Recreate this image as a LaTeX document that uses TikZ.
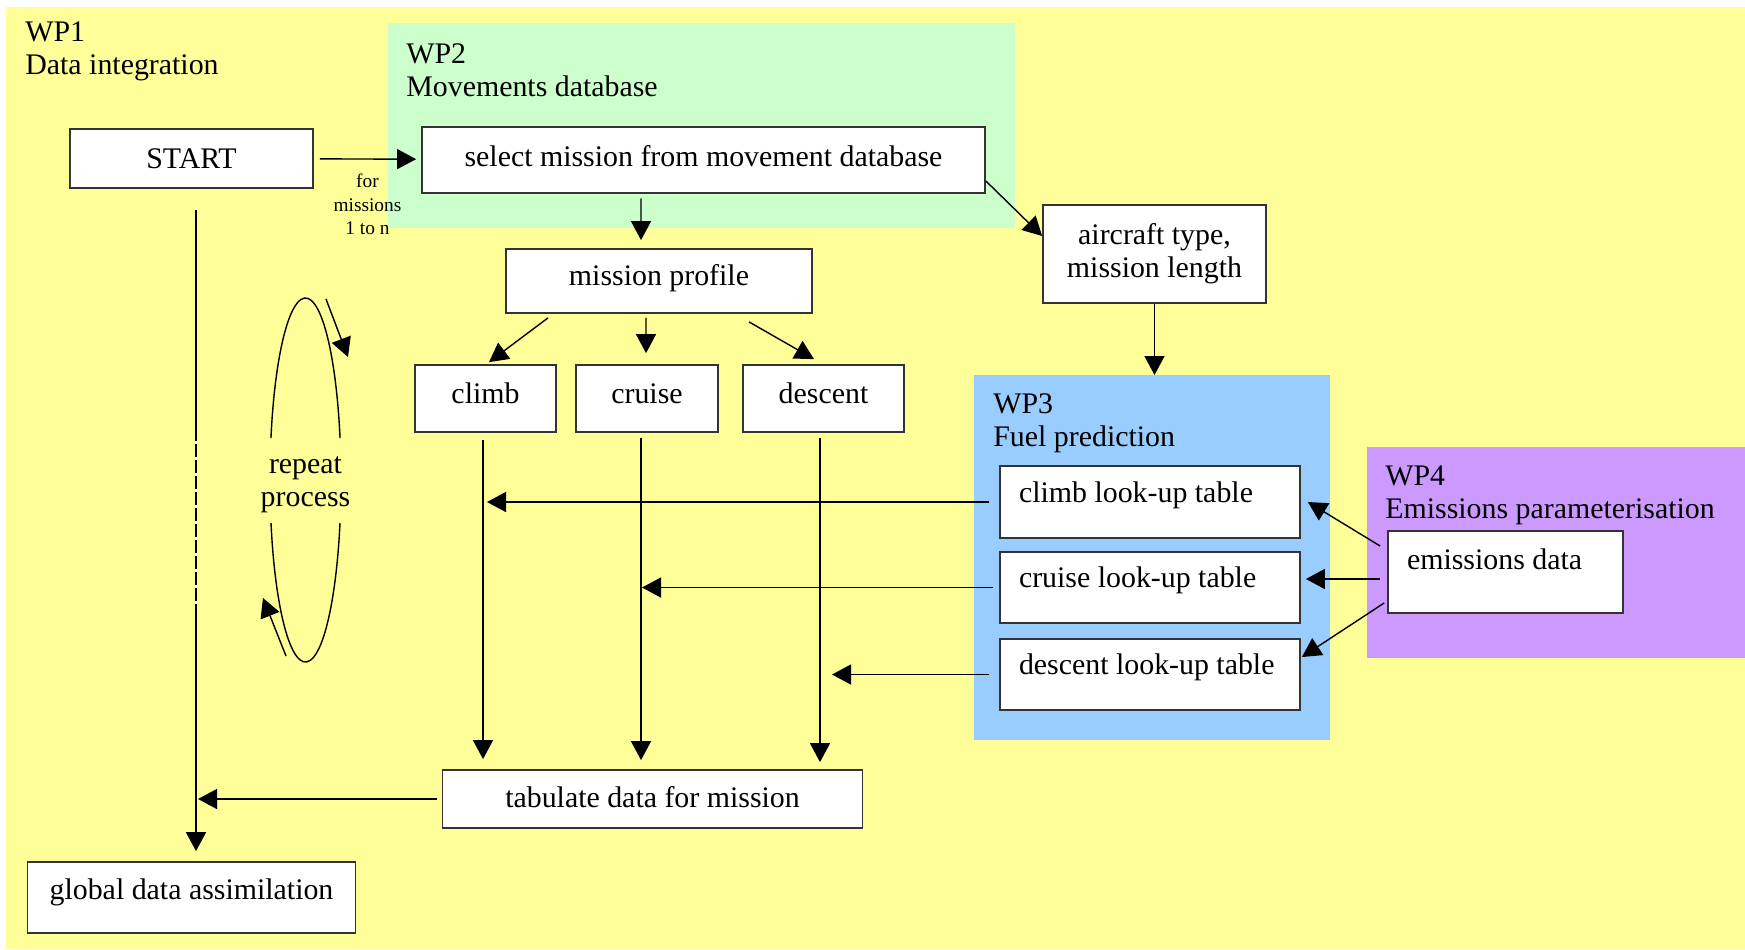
\documentclass[tikz,border=0pt]{standalone}
\usepackage{fontspec}
\setmainfont{Liberation Serif}
\usepackage{xcolor}
\usepackage{tikz}
\usetikzlibrary{arrows.meta, positioning}
\definecolor{wpyellow}{HTML}{FFFF99}
\definecolor{wpgreen}{HTML}{CCFFCC}
\definecolor{wpblue}{HTML}{99CCFF}
\definecolor{wppurple}{HTML}{CC99FF}
\tikzstyle{region} = [rectangle, draw=none, inner sep=0pt, outer sep=0pt]
\tikzstyle{wptitle} = [anchor=north west, inner sep=0pt, align=left]
\tikzstyle{plainbox} = [rectangle, draw=black!80, line width=1pt, fill=white, inner sep=2pt, text centered]
\tikzstyle{process} = [plainbox, text height=12pt, text depth=3.5pt]
\tikzstyle{stage} = [process, text depth=6.7pt]
\tikzstyle{lookup} = [plainbox, align=justify, inner xsep=0.38cm, text height=7pt, text depth=7pt]
\tikzstyle{plain} = [line width=0.8pt]
\tikzstyle{arrow} = [plain, -{Triangle[length=0.38cm, width=0.4cm]}]

\begin{document}
\begin{tikzpicture}[node distance=2cm, font=\fontsize{17}{18.8}\selectfont]
\useasboundingbox (0,0) rectangle (34.9,-18.98);
% Work package areas
\node (wp1) [region, fill=wpyellow, minimum width=34.78cm, minimum height=18.84cm] at (17.51,-9.56) {};
\node (wp2) [region, fill=wpgreen, minimum width=12.54cm, minimum height=4.1cm] at (14.03,-2.51) {};
\node (wp3) [region, fill=wpblue, minimum width=7.12cm, minimum height=7.3cm] at (23.04,-11.15) {};
\node (wp4) [region, fill=wppurple, minimum width=7.56cm, minimum height=4.22cm] at (31.12,-11.05) {};
\node (wp1title) [wptitle] at ([xshift=0.38cm, yshift=-0.28cm]wp1.north west) {WP1\\Data integration};
\node (wp2title) [wptitle] at ([xshift=0.36cm, yshift=-0.4cm]wp2.north west) {WP2\\Movements database};
\node (wp3title) [wptitle] at ([xshift=0.38cm, yshift=-0.36cm]wp3.north west) {WP3\\Fuel prediction};
\node (wp4title) [wptitle] at ([xshift=0.36cm, yshift=-0.36cm]wp4.north west) {WP4\\Emissions parameterisation};

% Nodes
\node (start) [process, minimum width=4.86cm, minimum height=1.18cm, text depth=1pt] at (3.83,-3.17) {START};
\node (select) [process, right of=start, xshift=8.24cm, yshift=-0.03cm, minimum width=11.26cm, minimum height=1.32cm, text depth=4.4pt] {select mission from movement database};
\node (profile) [stage, below of=select, xshift=-0.89cm, yshift=-0.42cm, minimum width=6.12cm, minimum height=1.28cm] {mission profile};
\node (cruise) [stage, below of=profile, xshift=-0.24cm, yshift=-0.35cm, minimum width=2.84cm, minimum height=1.34cm] {cruise};
\node (climb) [stage, left of=cruise, xshift=-1.23cm, minimum width=2.82cm, minimum height=1.34cm] {climb};
\node (descent) [stage, right of=cruise, xshift=1.53cm, minimum width=3.22cm, minimum height=1.34cm] {descent};
\node (aircraft) [plainbox, right of=select, xshift=7.02cm, yshift=-1.88cm, minimum width=4.46cm, minimum height=1.96cm, align=center] {aircraft type,\\mission length};
\node (climbtab) [lookup, below of=aircraft, xshift=-0.09cm, yshift=-2.96cm, minimum width=6cm, minimum height=1.44cm, text width=5.24cm] {climb look-up table};
\node (cruisetab) [lookup, below of=climbtab, yshift=0.29cm, minimum width=6cm, minimum height=1.42cm, text width=5.24cm] {cruise look-up table};
\node (descenttab) [lookup, below of=cruisetab, yshift=0.26cm, minimum width=6cm, minimum height=1.42cm, text width=5.24cm] {descent look-up table};
\node (emis) [lookup, right of=cruisetab, xshift=5.11cm, yshift=0.31cm, minimum width=4.7cm, minimum height=1.64cm, text width=3.94cm, text depth=10.3pt] {emissions data};
\node (tabulate) [process, below of=cruise, xshift=0.11cm, yshift=-6.01cm, minimum width=8.4cm, minimum height=1.16cm, text depth=2.9pt] {tabulate data for mission};
\node (global) [process, below of=start, yshift=-12.78cm, minimum width=6.56cm, minimum height=1.42cm, text depth=9.2pt] {global data assimilation};
\node (loop) [align=center, inner sep=0pt] at (6.11,-9.7) {repeat\\process};

\coordinate (mainline) at ([xshift=0.09cm]start.south);
\coordinate (climbline) at ([xshift=-0.05cm]climb.south);
\coordinate (cruiseline) at ([xshift=-0.12cm]cruise.south);
\coordinate (descentline) at ([xshift=-0.07cm]descent.south);

% Arrows
\draw [arrow, shorten <=0.12cm, shorten >=0.1cm] (start) -- node [below=0.29cm, inner sep=0pt, align=center, font=\fontsize{11}{13.4}\selectfont] (formissions) {for\\missions\\1 to n} (select);
\draw [arrow] ([xshift=-1.25cm, yshift=-0.09cm]select.south) -- ([xshift=-0.36cm, yshift=0.16cm]profile.north);
\draw [arrow] ([xshift=-2.22cm, yshift=-0.08cm]profile.south) -- ([xshift=0.07cm, yshift=0.04cm]climb.north);
\draw [arrow] ([xshift=-0.26cm, yshift=-0.08cm]profile.south) -- ([xshift=-0.02cm, yshift=0.22cm]cruise.north);
\draw [arrow] ([xshift=1.8cm, yshift=-0.16cm]profile.south) -- ([xshift=-0.19cm, yshift=0.1cm]descent.north);
\draw [arrow] ([yshift=-0.42cm]select.east) -- ([yshift=0.36cm]aircraft.west);
\draw [arrow] (aircraft.south) -- (aircraft.south |- wp3.north);

\draw [arrow, shorten <=0.14cm, shorten >=0.2cm] (climbline) -- (climbline |- tabulate.north);
\draw [arrow, shorten <=0.1cm, shorten >=0.18cm] (cruiseline) -- (cruiseline |- tabulate.north);
\draw [arrow, shorten <=0.1cm, shorten >=0.14cm] (descentline) -- (descentline |- tabulate.north);

\draw [arrow, shorten <=0.2cm, shorten >=0.08cm] (climbtab.west) -- (climbline |- climbtab.west);
\draw [arrow, shorten <=0.12cm, shorten >=0.02cm] (cruisetab.west) -- (cruiseline |- cruisetab.west);
\draw [arrow, shorten <=0.2cm, shorten >=0.24cm] (descenttab.west) -- (descentline |- descenttab.west);

\draw [arrow, shorten <=0.09cm, shorten >=0.04cm] (tabulate.west) -- (mainline |- tabulate.west);
\draw [plain] ([yshift=-0.42cm]mainline) -- ([yshift=-4.78cm]mainline);
\draw [plain, dash pattern=on 0.26cm off 0.06cm] ([yshift=-4.78cm]mainline) -- ([yshift=-8.4cm]mainline);
\draw [arrow, shorten >=0.2cm] ([yshift=-8.4cm]mainline) -- (mainline |- global.north);

\draw [arrow] ([xshift=-0.14cm, yshift=0.52cm]emis.west) -- ([xshift=0.14cm]climbtab.east);
\draw [arrow] ([xshift=-0.14cm, yshift=-0.14cm]emis.west) -- ([xshift=0.1cm, yshift=0.17cm]cruisetab.east);
\draw [arrow] ([xshift=-0.06cm, yshift=-0.62cm]emis.west) -- ([xshift=0.02cm, yshift=0.35cm]descenttab.east);

% Repeat loop
\draw [plain] ([shift={(13.3:0.71cm and 3.64cm)}, yshift=0.1cm]loop.center) arc [start angle=13.3, end angle=166.7, x radius=0.71cm, y radius=3.64cm];
\draw [plain] ([shift={(193.7:0.71cm and 3.64cm)}, yshift=0.1cm]loop.center) arc [start angle=193.7, end angle=346.3, x radius=0.71cm, y radius=3.64cm];
\draw [arrow] ([shift={(0.41,3.62)}, yshift=0.1cm]loop.center) -- ([shift={(0.85,2.46)}, yshift=0.1cm]loop.center);
\draw [arrow] ([shift={(-0.39,-3.52)}, yshift=0.1cm]loop.center) -- ([shift={(-0.85,-2.36)}, yshift=0.1cm]loop.center);
\end{tikzpicture}
\end{document}
